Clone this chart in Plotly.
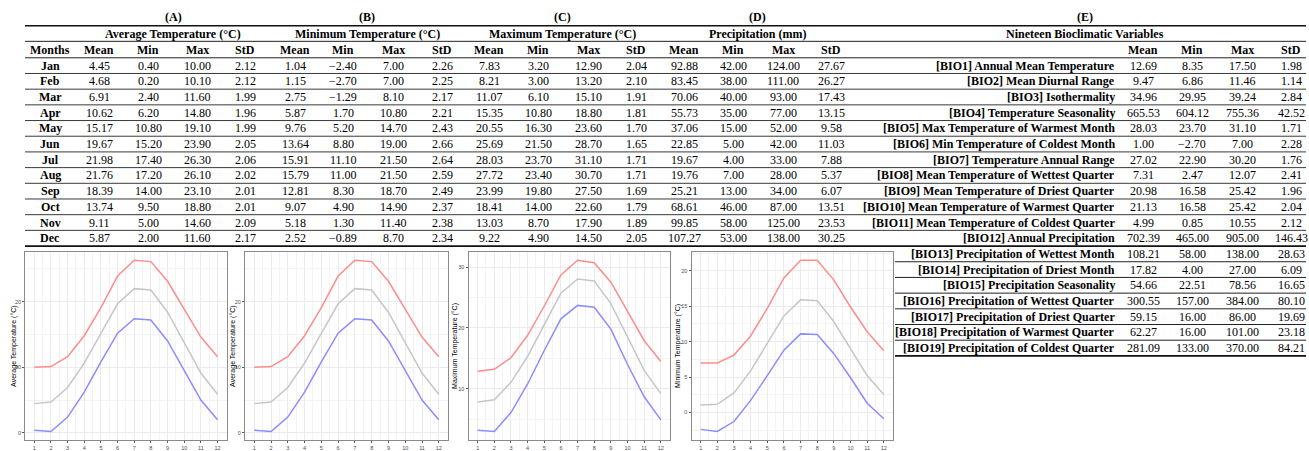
import plotly.graph_objects as go

W, H = 1309, 451

# ---------------- data ----------------
months = ["Jan", "Feb", "Mar", "Apr", "May", "Jun", "Jul", "Aug", "Sep", "Oct", "Nov", "Dec"]
month_num = list(range(1, 13))

avg_mean = [4.45, 4.68, 6.91, 10.62, 15.17, 19.67, 21.98, 21.76, 18.39, 13.74, 9.11, 5.87]
avg_min = [0.40, 0.20, 2.40, 6.20, 10.80, 15.20, 17.40, 17.20, 14.00, 9.50, 5.00, 2.00]
avg_max = [10.00, 10.10, 11.60, 14.80, 19.10, 23.90, 26.30, 26.10, 23.10, 18.80, 14.60, 11.60]
avg_std = [2.12, 2.12, 1.99, 1.96, 1.99, 2.05, 2.06, 2.02, 2.01, 2.01, 2.09, 2.17]

tmin_mean = [1.04, 1.15, 2.75, 5.87, 9.76, 13.64, 15.91, 15.79, 12.81, 9.07, 5.18, 2.52]
tmin_min = [-2.40, -2.70, -1.29, 1.70, 5.20, 8.80, 11.10, 11.00, 8.30, 4.90, 1.30, -0.89]
tmin_max = [7.00, 7.00, 8.10, 10.80, 14.70, 19.00, 21.50, 21.50, 18.70, 14.90, 11.40, 8.70]
tmin_std = [2.26, 2.25, 2.17, 2.21, 2.43, 2.66, 2.64, 2.59, 2.49, 2.37, 2.38, 2.34]

tmax_mean = [7.83, 8.21, 11.07, 15.35, 20.55, 25.69, 28.03, 27.72, 23.99, 18.41, 13.03, 9.22]
tmax_min = [3.20, 3.00, 6.10, 10.80, 16.30, 21.50, 23.70, 23.40, 19.80, 14.00, 8.70, 4.90]
tmax_max = [12.90, 13.20, 15.10, 18.80, 23.60, 28.70, 31.10, 30.70, 27.50, 22.60, 17.90, 14.50]
tmax_std = [2.04, 2.10, 1.91, 1.81, 1.70, 1.65, 1.71, 1.71, 1.69, 1.79, 1.89, 2.05]

prec_mean = [92.88, 83.45, 70.06, 55.73, 37.06, 22.85, 19.67, 19.76, 25.21, 68.61, 99.85, 107.27]
prec_min = [42.00, 38.00, 40.00, 35.00, 15.00, 5.00, 4.00, 7.00, 13.00, 46.00, 58.00, 53.00]
prec_max = [124.00, 111.00, 93.00, 77.00, 52.00, 42.00, 33.00, 28.00, 34.00, 87.00, 125.00, 138.00]
prec_std = [27.67, 26.27, 17.43, 13.15, 9.58, 11.03, 7.88, 5.37, 6.07, 13.51, 23.53, 30.25]

bio_names = [
    "[BIO1] Annual Mean Temperature",
    "[BIO2] Mean Diurnal Range",
    "[BIO3] Isothermality",
    "[BIO4] Temperature Seasonality",
    "[BIO5] Max Temperature of Warmest Month",
    "[BIO6] Min Temperature of Coldest Month",
    "[BIO7] Temperature Annual Range",
    "[BIO8] Mean Temperature of Wettest Quarter",
    "[BIO9] Mean Temperature of Driest Quarter",
    "[BIO10] Mean Temperature of Warmest Quarter",
    "[BIO11] Mean Temperature of Coldest Quarter",
    "[BIO12] Annual Precipitation",
    "[BIO13] Precipitation of Wettest Month",
    "[BIO14] Precipitation of Driest Month",
    "[BIO15] Precipitation Seasonality",
    "[BIO16] Precipitation of Wettest Quarter",
    "[BIO17] Precipitation of Driest Quarter",
    "[BIO18] Precipitation of Warmest Quarter",
    "[BIO19] Precipitation of Coldest Quarter",
]
bio_mean = [12.69, 9.47, 34.96, 665.53, 28.03, 1.00, 27.02, 7.31, 20.98, 21.13, 4.99,
            702.39, 108.21, 17.82, 54.66, 300.55, 59.15, 62.27, 281.09]
bio_min = [8.35, 6.86, 29.95, 604.12, 23.70, -2.70, 22.90, 2.47, 16.58, 16.58, 0.85,
           465.00, 58.00, 4.00, 22.51, 157.00, 16.00, 16.00, 133.00]
bio_max = [17.50, 11.46, 39.24, 755.36, 31.10, 7.00, 30.20, 12.07, 25.42, 25.42, 10.55,
           905.00, 138.00, 27.00, 78.56, 384.00, 86.00, 101.00, 370.00]
bio_std = [1.98, 1.14, 2.84, 42.52, 1.71, 2.28, 1.76, 2.41, 1.96, 2.04, 2.12,
           146.43, 28.63, 6.09, 16.65, 80.10, 19.69, 23.18, 84.21]

panel_letters = ["(A)", "(B)", "(C)", "(D)", "(E)"]
panel_titles = ["Average Temperature (°C)", "Minimum Temperature (°C)",
                "Maximum Temperature (°C)", "Precipitation (mm)",
                "Nineteen Bioclimatic Variables"]
stat_headers = ["Mean", "Min", "Max", "StD"]

chart_ytitles = ["Average Temperature (°C)", "Average Temperature (°C)",
                 "Maximum Temperature (°C)", "Minimum Temperature (°C)"]
chart_series = [
    (avg_max, avg_mean, avg_min),
    (avg_max, avg_mean, avg_min),
    (tmax_max, tmax_mean, tmax_min),
    (tmin_max, tmin_mean, tmin_min),
]
chart_dtick = [10, 10, 10, 5]

# ---------------- helpers ----------------
def px(x):
    return x / W

def py(y):
    return 1 - y / H

def fmt(v):
    s = f"{v:.2f}"
    return s.replace("-", "\u2212")

SERIF = "Liberation Serif"
SANS = "Liberation Sans"
FS = 12

annotations = []
shapes = []

def text(x, y, s, bold=False, anchor="center", size=FS, family=SERIF, angle=0):
    annotations.append(dict(
        x=px(x), y=py(y), xref="paper", yref="paper",
        text=f"<b>{s}</b>" if bold else s,
        showarrow=False, xanchor=anchor, yanchor="middle", textangle=angle,
        font=dict(family=family, size=size, color="black"),
    ))

def hline(x0, x1, y, w=1.0, c="#222"):
    shapes.append(dict(type="line", xref="paper", yref="paper",
                       x0=px(x0), x1=px(x1), y0=py(y), y1=py(y),
                       line=dict(color=c, width=w)))

# ---------------- tables layout ----------------
ROW0 = 66.2       # centre of first data row
RH = 15.83        # row height
LINE0 = 58.3      # line under header row
LEFT, RIGHT = 25, 1306

month_x = 50
col_x = [99, 148, 197, 245, 295, 343, 393, 442, 489, 538, 588, 636, 684, 733, 783, 831]
group_centers = [173, 367, 562, 757, 1085]
bio_label_right = 1117
bio_col_x = [1143, 1192, 1242, 1291]

for letter, title, cx in zip(panel_letters, panel_titles, group_centers):
    text(cx, 17, letter, bold=True)
    text(cx, 34, title, bold=True)

# header row
text(month_x, 50, "Months", bold=True)
for i, cx in enumerate(col_x):
    text(cx, 50, stat_headers[i % 4], bold=True)
for h, cx in zip(stat_headers, bio_col_x):
    text(cx, 50, h, bold=True)

monthly_cols = [avg_mean, avg_min, avg_max, avg_std,
                tmin_mean, tmin_min, tmin_max, tmin_std,
                tmax_mean, tmax_min, tmax_max, tmax_std,
                prec_mean, prec_min, prec_max, prec_std]

for r, m in enumerate(months):
    yc = ROW0 + r * RH
    text(month_x, yc, m, bold=True)
    for col, cx in zip(monthly_cols, col_x):
        text(cx, yc, fmt(col[r]))

bio_cols = [bio_mean, bio_min, bio_max, bio_std]
for r, name in enumerate(bio_names):
    yc = ROW0 + r * RH
    text(bio_label_right, yc, name, bold=True, anchor="right")
    for col, cx in zip(bio_cols, bio_col_x):
        text(cx, yc, fmt(col[r]))

# rules
hline(LEFT, RIGHT, 26, w=1.4, c="#111")
hline(LEFT, RIGHT, 41.7, w=1.0)
hline(LEFT, RIGHT, LINE0, w=1.0)
for k in range(1, 12):
    hline(LEFT, RIGHT, LINE0 + k * RH, w=0.9)
hline(LEFT, RIGHT, LINE0 + 12 * RH, w=1.8, c="#111")
for k in range(13, 19):
    hline(895, RIGHT, LINE0 + k * RH, w=1.0)
hline(895, RIGHT, LINE0 + 19 * RH, w=1.6, c="#111")

# ---------------- charts ----------------
chart_x = [(25.1, 226.7), (245.0, 448.0), (468.5, 670.0), (691.5, 893.0)]
ytitle_x = [14, 233, 455, 678]
chart_top, chart_bot = 254.0, 444.0
colors = ["#FF8C8C", "#C6C6C6", "#8C8CFF"]

fig = go.Figure()
layout_axes = {}
for i, ((x0, x1), series, ytitle, dt, tx) in enumerate(
        zip(chart_x, chart_series, chart_ytitles, chart_dtick, ytitle_x)):
    n = i + 1
    xa = "x" if n == 1 else f"x{n}"
    ya = "y" if n == 1 else f"y{n}"
    for s, c in zip(series, colors):
        fig.add_trace(go.Scatter(x=month_num, y=s, mode="lines",
                                 line=dict(color=c, width=1.5),
                                 xaxis=xa, yaxis=ya, showlegend=False,
                                 hoverinfo="skip"))
    lo = min(min(s) for s in series)
    hi = max(max(s) for s in series)
    pad = (hi - lo) * 0.05
    common = dict(showline=True, mirror=True, linecolor="#8a8a8a", linewidth=1,
                  showgrid=True, gridcolor="#ebebeb", gridwidth=0.8,
                  zeroline=False, ticks="outside", ticklen=2, tickwidth=0.6,
                  tickcolor="#555",
                  tickfont=dict(family=SANS, size=5.5, color="#4d4d4d"))
    layout_axes["xaxis" if n == 1 else f"xaxis{n}"] = dict(
        domain=[px(x0), px(x1)], anchor=ya, range=[0.45, 12.55],
        tickmode="linear", tick0=1, dtick=1,
        minor=dict(dtick=0.5, tick0=0.5, showgrid=True, gridcolor="#f3f3f3", gridwidth=0.5),
        **common)
    layout_axes["yaxis" if n == 1 else f"yaxis{n}"] = dict(
        domain=[py(chart_bot), py(chart_top)], anchor=xa, range=[lo - pad, hi + pad],
        tickmode="linear", tick0=0, dtick=dt,
        minor=dict(dtick=dt / 2, tick0=0, showgrid=True, gridcolor="#f3f3f3", gridwidth=0.5),
        **common)
    text(tx, (chart_top + chart_bot) / 2, ytitle, size=7, family=SANS, angle=-90)

fig.update_layout(
    width=W, height=H,
    margin=dict(l=0, r=0, t=0, b=0),
    paper_bgcolor="white", plot_bgcolor="white",
    annotations=annotations, shapes=shapes,
    **layout_axes,
)

fig.write_html("out.html",
               config={"displayModeBar": False},
               post_script="document.body.style.margin='0';document.body.style.overflow='hidden';")
